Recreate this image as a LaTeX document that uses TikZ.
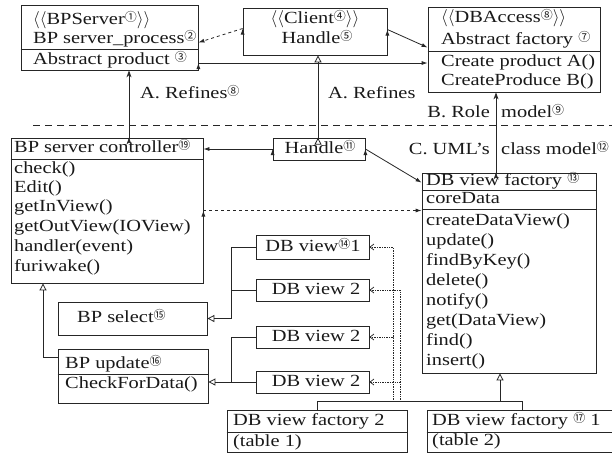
\documentclass[tikz,border=0pt]{standalone}
\usepackage{fontspec}
\setmainfont{Liberation Serif}[FakeStretch=1.2]
\newfontfamily\circfont{Noto Sans CJK SC}
\usetikzlibrary{shapes}
\usetikzlibrary{shapes.misc}
\usetikzlibrary{arrows.meta}
\newcommand{\cnum}[1]{\raisebox{3pt}{\circfont\fontsize{12}{12}\selectfont #1}}
\tikzset{
    mybox/.style = {rectangle, draw=black!85, line width=0.8pt, inner sep=0pt},
    myboxc/.style = {chamfered rectangle, chamfered rectangle xsep=13pt, chamfered rectangle ysep=13pt, draw=black!85, line width=0.8pt, inner sep=0pt},
    mytext/.style = {anchor=west, inner sep=0pt, text height=11pt, text depth=3pt, font=\fontsize{17}{20}\selectfont, text=black!90},
    mytextc/.style = {mytext, anchor=center},
    edgen/.style = {-, line width=0.8pt, black!85},
    edgea/.style = {-{Latex[length=6pt,width=4pt]}, line width=0.8pt, black!85},
    edged/.style = {edgea, dashed},
    edget/.style = {-{Triangle[open,length=7pt,width=7pt]}, line width=0.8pt, black!85},
    edges/.style = {-{Stealth[length=7pt,width=5pt]}, line width=0.8pt, black!85},
    edgev/.style = {-{Straight Barb[length=4pt,width=6pt]}, line width=0.7pt, black!85, densely dotted},
}

\begin{document}
\begin{tikzpicture}[x=1pt,y=-1pt]
\useasboundingbox[fill=white] (0,0) rectangle (612,456);
% role model
\node[myboxc, minimum width=177pt, minimum height=65pt] at (109.5,37.5) (bps) {};
\node[mytext] at (33,20) (bps1) {$\langle\langle$BPServer\cnum{①}$\rangle\rangle$};
\node[mytext] at (33,39) (bps2) {BP server\_process\cnum{②}};
\node[mytext] at (33,60) (bps3) {Abstract product \cnum{③}};
\node[myboxc, minimum width=144pt, minimum height=47pt] at (315,31.5) (clt) {};
\node[mytextc] at (315,19) (clt1) {$\langle\langle$Client\cnum{④}$\rangle\rangle$};
\node[mytextc] at (317,39) (clt2) {Handle\cnum{⑤}};
\node[myboxc, minimum width=172pt, minimum height=85pt] at (514,49.5) (dba) {};
\node[mytext] at (441,18) (dba1) {$\langle\langle$DBAccess\cnum{⑧}$\rangle\rangle$};
\node[mytext] at (441,40) (dba2) {Abstract factory \cnum{⑦}};
\node[mytext] at (441,62) (dba3) {Create product A()};
\node[mytext] at (441,81) (dba4) {CreateProduce B()};
\node[mytext] at (140,94) (refa) {A. Refines\cnum{⑧}};
\node[mytext] at (328,94) (refb) {A. Refines};
\node[mytext, anchor=east] at (490,113) (rol1) {B. Role};
\node[mytext] at (501,113) (rol2) {model\cnum{⑨}};
\node[mytext, anchor=east] at (490,150) (uml1) {C. UML’s};
\node[mytext] at (501,150) (uml2) {class model\cnum{⑫}};
% class model
\node[mybox, minimum width=192pt, minimum height=145pt] at (107,210.5) (bsc) {};
\node[mytext] at (14,148) (bsc0) {BP server controller\cnum{⑲}};
\node[mytext] at (14,169) (bsc1) {check()};
\node[mytext] at (14,188) (bsc2) {Edit()};
\node[mytext] at (14,207) (bsc3) {getInView()};
\node[mytext] at (14,227) (bsc4) {getOutView(IOView)};
\node[mytext] at (14,247) (bsc5) {handler(event)};
\node[mytext] at (14,267) (bsc6) {furiwake()};
\node[mybox, minimum width=92pt, minimum height=22pt] at (319,149) (hdl) {};
\node[mytextc] at (320,149) (hdl1) {Handle\cnum{⑪}};
\node[mybox, minimum width=174pt, minimum height=200pt] at (509,273) (dvf) {};
\node[mytext] at (426,181) (dvf0) {DB view factory \cnum{⑬}};
\node[mytext] at (426,199) (dvf1t) {coreData};
\node[mytext] at (426,221) (dvfm1) {createDataView()};
\node[mytext] at (426,241) (dvfm2) {update()};
\node[mytext] at (426,261) (dvfm3) {findByKey()};
\node[mytext] at (426,281) (dvfm4) {delete()};
\node[mytext] at (426,301) (dvfm5) {notify()};
\node[mytext] at (426,321) (dvfm6) {get(DataView)};
\node[mytext] at (426,341) (dvfm7) {find()};
\node[mytext] at (426,361) (dvfm8) {insert()};
\node[mybox, minimum width=113pt, minimum height=24pt] at (312.5,247) (dv1) {};
\node[mytextc] at (313,247) (dv1t) {DB view\cnum{⑭}1};
\node[mybox, minimum width=113pt, minimum height=22pt] at (312.5,290) (dv2) {};
\node[mytextc] at (316,290) (dv2t) {DB view 2};
\node[mybox, minimum width=113pt, minimum height=22pt] at (312.5,337) (dv3) {};
\node[mytextc] at (316,337) (dv3t) {DB view 2};
\node[mybox, minimum width=113pt, minimum height=22pt] at (312.5,382) (dv4) {};
\node[mytextc] at (316,382) (dv4t) {DB view 2};
\node[mybox, minimum width=149pt, minimum height=33pt] at (132.5,318.5) (bsel) {};
\node[mytext] at (77,318) (bsel1) {BP select\cnum{⑮}};
\node[mybox, minimum width=150pt, minimum height=54pt] at (133,376) (bupd) {};
\node[mytext] at (65,364) (bupd1) {BP update\cnum{⑯}};
\node[mytext] at (65,384) (bupd2) {CheckForData()};
\node[mybox, minimum width=180pt, minimum height=42pt] at (317,431) (dvf2) {};
\node[mytext] at (233,421) (dvf21) {DB view factory 2};
\node[mytext] at (233,442) (dvf22) {(table 1)};
\node[mybox, minimum width=190pt, minimum height=42pt] at (522,431) (dvf1) {};
\node[mytext] at (432,421) (dvf11) {DB view factory \cnum{⑰} 1};
\node[mytext] at (432,441) (dvf12) {(table 2)};
%
\draw[edgen] (bps.west |- 0,49) -- (bps.east |- 0,49);
\draw[edgen] (dba.west |- 0,51) -- (dba.east |- 0,51);
\draw[edgen] (bsc.west |- 0,159) -- (bsc.east |- 0,159);
\draw[edgen] (dvf.west |- 0,190) -- (dvf.east |- 0,190);
\draw[edgen] (dvf.west |- 0,209) -- (dvf.east |- 0,209);
\draw[edgen] (bupd.west |- 0,374) -- (bupd.east |- 0,374);
\draw[edgen] (dvf2.west |- 0,432) -- (dvf2.east |- 0,432);
\draw[edgen] (dvf1.west |- 0,432) -- (dvf1.east |- 0,432);
\draw[edgen, dash pattern=on 7pt off 5pt] (33,125) -- (612,125);
%
\draw[edged] ([yshift=3pt]clt.west) edge node {} ([yshift=-5pt]bps.east);
\draw[edgea] ([yshift=2pt]clt.east) edge node {} ([yshift=2pt]dba.west);
\draw[edgea] (bps.east |- 0,63) edge node {} (dba.west |- 0,63);
\draw[edges] ([xshift=22pt]bsc.north) edge node {} ([xshift=19.5pt]bps.south);
\draw[edget] ([xshift=-1pt]hdl.north) edge node {} ([xshift=3pt]clt.south);
\draw[edges] ([xshift=-13pt]dvf.north) edge node {} ([xshift=-18pt]dba.south);
\draw[edgea] (hdl.west) edge node {} (hdl.west -| bsc.east);
\draw[edgea] (hdl.east) edge node {} ([yshift=-10pt]dvf.north west);
\draw[edged] (bsc.east) edge node {} (bsc.east -| dvf.west);
\draw[edget] (dv1.west) -- ++(-24,0) |- (bsel.east);
\draw[edgen] (dv2.west) -- ++(-24,0);
\draw[edgen] (dv3.west) -- ++(-24,0) |- (dv4.west);
\draw[edget] (dv4.west) -- (dv4.west -| bupd.east);
\draw[edget] ([yshift=19pt]bupd.west) -| ([xshift=-64pt]bsc.south);
\draw[edget] (dvf2.north) -- ++(0,-8) -| ([xshift=-9pt]dvf.south);
\draw[edgen] (dvf1.north) -- ++(0,-8) -- ++(-22,0);
\draw[edgev] ([xshift=76pt,yshift=8pt]dvf2.north) |- (dv1.east);
\draw[edgev] ([xshift=76pt,yshift=8pt]dvf2.north) |- (dv3.east);
\draw[edgev] ([xshift=83pt,yshift=8pt]dvf2.north) |- (dv2.east);
\draw[edgev] ([xshift=83pt,yshift=8pt]dvf2.north) |- (dv4.east);
\end{tikzpicture}
\end{document}
